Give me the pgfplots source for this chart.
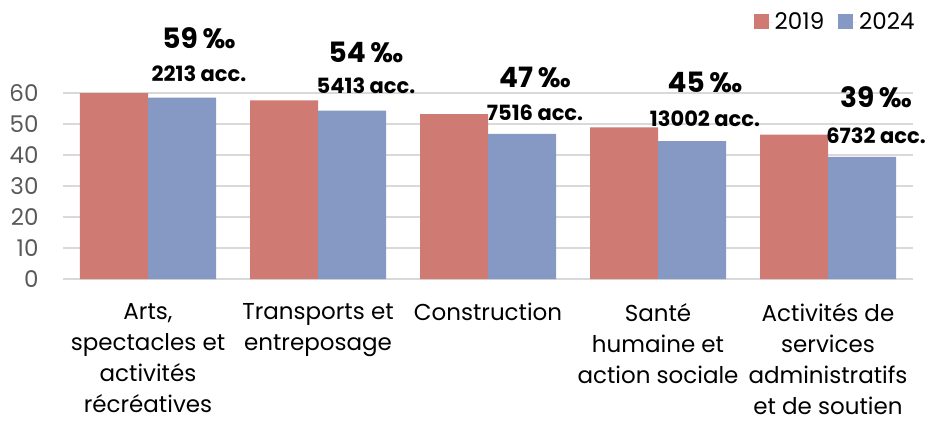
\documentclass[border=0pt]{standalone}
\usepackage{pgfplots}
\pgfplotsset{compat=1.18}
\usepackage{fontspec}
\setmainfont{Poppins}
\definecolor{c19}{HTML}{CF7A72}
\definecolor{c24}{HTML}{8599C4}
\definecolor{gridc}{HTML}{D9D9D9}
\definecolor{tickc}{HTML}{595959}
\newcommand{\bigfnt}{\fontsize{28}{32}\bfseries\selectfont}
\newcommand{\smallfnt}{\fontsize{21}{24}\bfseries\selectfont}
\begin{document}
\begin{tikzpicture}[x=1pt,y=1pt]
\useasboundingbox (0,0) rectangle (926,426);
\begin{axis}[
  at={(63pt,147pt)}, anchor=south west,
  scale only axis, width=850pt, height=186pt,
  xmin=-0.5, xmax=4.5, ymin=0, ymax=60,
  axis line style={draw=none},
  ytick={0,10,...,60},
  ymajorgrids, grid style={gridc, line width=1.6pt},
  major tick length=0pt,
  xtick={0,1,2,3,4},
  xticklabels={{Arts,\\spectacles et\\activités\\récréatives},{Transports et\\entreposage},{Construction},{Santé\\humaine et\\action sociale},{Activités de\\services\\administratifs\\et de soutien}},
  xticklabel style={align=center, anchor=north, font=\fontsize{23}{31}\selectfont, yshift=-23pt, inner sep=1pt},
  yticklabel style={font=\fontsize{23}{26}\selectfont, text=tickc, xshift=-21pt},
  /pgf/number format/assume math mode=true,
  ybar, bar width=68pt,
  clip=false,
  legend columns=2,
  legend style={draw=none, fill=none, at={(1.008,1.455)}, anchor=north east, font=\fontsize{23}{26}\selectfont,
    /tikz/every even column/.append style={column sep=12pt}},
  legend image code/.code={\fill[#1] (0pt,-7.5pt) rectangle (15pt,7.5pt); \path (0pt,0pt) rectangle (19pt,0pt);},
]
\addplot[fill=c19, draw=none, bar shift=-34pt] coordinates {(0,60.0) (1,57.6) (2,53.2) (3,48.9) (4,46.6)};
\addplot[fill=c24, draw=none, bar shift=34pt] coordinates {(0,58.5) (1,54.3) (2,46.8) (3,44.5) (4,39.4)};
\legend{2019,2024}
\node[anchor=base, font=\smallfnt, xshift=51pt, yshift=16.6pt] at (axis cs:0,58.5) {2213 acc.};
\node[anchor=base, font=\bigfnt, xshift=51pt, yshift=49.3pt] at (axis cs:0,58.5) {59\,‰};
\node[anchor=base, font=\smallfnt, xshift=48pt, yshift=17pt] at (axis cs:1,54.3) {5413 acc.};
\node[anchor=base, font=\bigfnt, xshift=48pt, yshift=48pt] at (axis cs:1,54.3) {54\,‰};
\node[anchor=base, font=\smallfnt, xshift=47pt, yshift=13.6pt] at (axis cs:2,46.8) {7516 acc.};
\node[anchor=base, font=\bigfnt, xshift=47pt, yshift=46.3pt] at (axis cs:2,46.8) {47\,‰};
\node[anchor=base, font=\smallfnt, xshift=47pt, yshift=15pt] at (axis cs:3,44.5) {13002 acc.};
\node[anchor=base, font=\bigfnt, xshift=47pt, yshift=48.4pt] at (axis cs:3,44.5) {45\,‰};
\node[anchor=base, font=\smallfnt, xshift=48pt, yshift=13.7pt] at (axis cs:4,39.4) {6732 acc.};
\node[anchor=base, font=\bigfnt, xshift=48pt, yshift=49pt] at (axis cs:4,39.4) {39\,‰};
\end{axis}
\end{tikzpicture}
\end{document}
